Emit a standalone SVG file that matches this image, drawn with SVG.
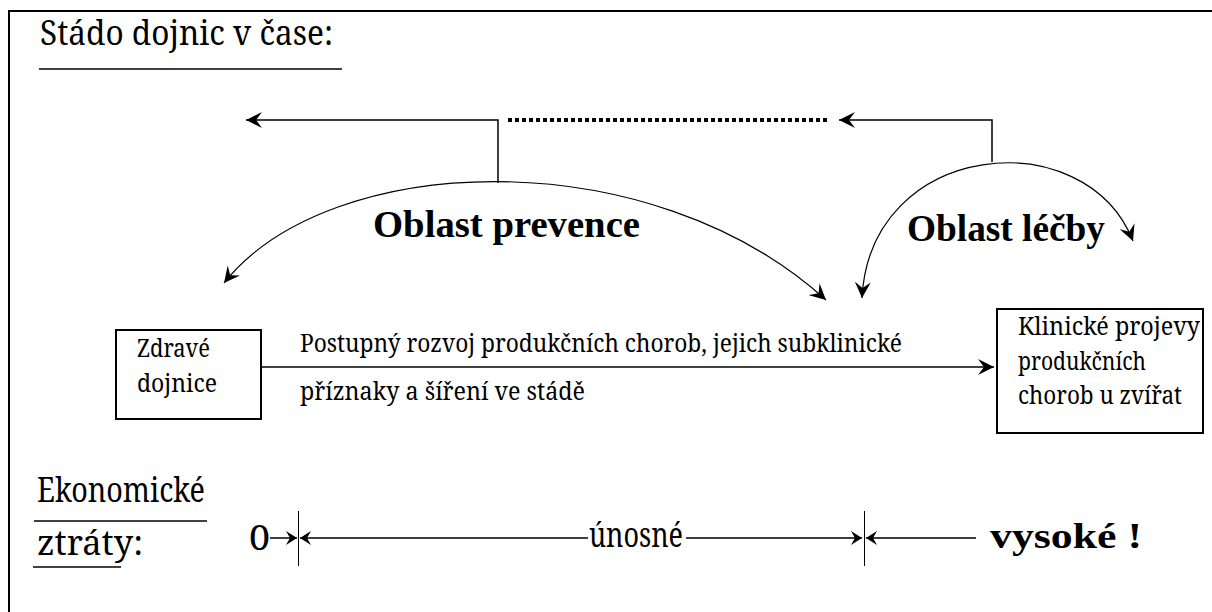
<svg xmlns="http://www.w3.org/2000/svg" width="1212" height="612" viewBox="0 0 1212 612">
<defs>
<style>
.t34{font-size:34px;font-family:'Noto Serif','DejaVu Serif',serif}
.t25{font-size:25px;font-family:'Noto Serif','DejaVu Serif',serif}
.b38{font-size:38px;font-weight:bold;font-family:'Liberation Serif','Noto Serif',serif}
.bv{font-size:36px;font-weight:bold;font-family:'Liberation Serif','Noto Serif',serif}
.ln{stroke:#000;stroke-width:1.5;fill:none}
.arc{stroke:#000;stroke-width:1.2;fill:none}
.box{stroke:#000;stroke-width:2;fill:#fff}
</style>
<marker id="ah" markerUnits="userSpaceOnUse" markerWidth="18" markerHeight="16" refX="16" refY="8" orient="auto-start-reverse" viewBox="0 0 18 16">
<path d="M0,0 L16,8 L0,16 L6,8 z" fill="#000"/>
</marker>
<marker id="as" markerUnits="userSpaceOnUse" markerWidth="12" markerHeight="14" refX="11" refY="7" orient="auto-start-reverse" viewBox="0 0 12 14">
<path d="M0,0 L11,7 L0,14 L4,7 z" fill="#000"/>
</marker>
</defs>
<rect width="1212" height="612" fill="#fff"/>
<g id="frame">
<path d="M9,612 V11 H1212" fill="none" stroke="#000" stroke-width="2"/>
</g>
<g id="title">
<text class="t34" x="40" y="45" textLength="293" lengthAdjust="spacingAndGlyphs">Stádo dojnic v čase:</text>
<line x1="39" y1="69" x2="342" y2="69" stroke="#000" stroke-width="1.5"/>
</g>
<g id="connectors">
<path class="ln" d="M498,183 V120 H246" marker-end="url(#ah)"/>
<line x1="508" y1="120" x2="830" y2="120" stroke="#000" stroke-width="4" stroke-dasharray="4 3"/>
<path class="ln" d="M992,162 V120 H839" marker-end="url(#ah)"/>
<path class="arc" d="M224,283 C330,150 650,140 826,300" marker-start="url(#ah)" marker-end="url(#ah)"/>
<path class="arc" d="M862,298 C870,140 1085,120 1133,241" marker-start="url(#ah)" marker-end="url(#ah)"/>
<line class="ln" x1="262" y1="367" x2="994" y2="367" marker-end="url(#ah)"/>
</g>
<g id="labels">
<text class="b38" x="373" y="237" textLength="267" lengthAdjust="spacingAndGlyphs">Oblast prevence</text>
<text class="b38" x="907" y="241" textLength="198" lengthAdjust="spacingAndGlyphs">Oblast léčby</text>
<text class="t25" x="300" y="352" textLength="602" lengthAdjust="spacingAndGlyphs">Postupný rozvoj produkčních chorob, jejich subklinické</text>
<text class="t25" x="300" y="400" textLength="285" lengthAdjust="spacingAndGlyphs">příznaky a šíření ve stádě</text>
</g>
<g id="node-zdrave">
<rect class="box" x="116" y="330" width="145" height="89"/>
<text class="t25" x="137" y="357" textLength="73" lengthAdjust="spacingAndGlyphs">Zdravé</text>
<text class="t25" x="137" y="392" textLength="80" lengthAdjust="spacingAndGlyphs">dojnice</text>
</g>
<g id="node-klinicke">
<rect class="box" x="997" y="309" width="206" height="124"/>
<text class="t25" x="1018" y="335" textLength="182" lengthAdjust="spacingAndGlyphs">Klinické projevy</text>
<text class="t25" x="1018" y="370" textLength="128" lengthAdjust="spacingAndGlyphs">produkčních</text>
<text class="t25" x="1018" y="404" textLength="164" lengthAdjust="spacingAndGlyphs">chorob u zvířat</text>
</g>
<g id="losses">
<text class="t34" x="37" y="502" textLength="168" lengthAdjust="spacingAndGlyphs">Ekonomické</text>
<line x1="34" y1="521" x2="207" y2="521" stroke="#000" stroke-width="1.5"/>
<text class="t34" x="37" y="555" textLength="106" lengthAdjust="spacingAndGlyphs">ztráty:</text>
<line x1="33" y1="567" x2="121" y2="567" stroke="#000" stroke-width="1.5"/>
</g>
<g id="scale">
<text class="t34" x="249" y="550" textLength="21" lengthAdjust="spacingAndGlyphs">0</text>
<line class="ln" x1="270" y1="538" x2="297" y2="538" marker-end="url(#as)"/>
<line x1="298.5" y1="511" x2="298.5" y2="566" stroke="#000" stroke-width="1"/>
<line class="ln" x1="588" y1="538" x2="300" y2="538" marker-end="url(#as)"/>
<text class="t34" x="589" y="547" textLength="94" lengthAdjust="spacingAndGlyphs">únosné</text>
<line class="ln" x1="686" y1="538" x2="862" y2="538" marker-end="url(#as)"/>
<line x1="864.5" y1="511" x2="864.5" y2="566" stroke="#000" stroke-width="1"/>
<line class="ln" x1="976" y1="538" x2="866" y2="538" marker-end="url(#as)"/>
<text class="bv" x="990" y="548" textLength="152" lengthAdjust="spacingAndGlyphs">vysoké !</text>
</g>
</svg>
